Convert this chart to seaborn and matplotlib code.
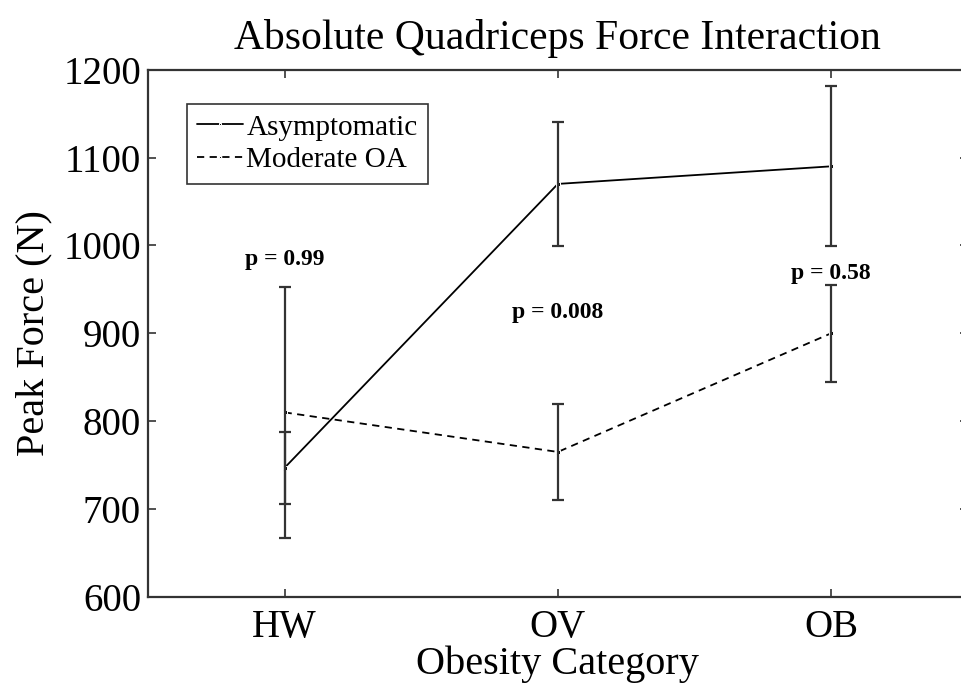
import numpy as np
import pandas as pd
import seaborn as sns
import matplotlib.pyplot as plt

# obesity categories and group means / error half-widths (N)
categories = ["HW", "OV", "OB"]
asym_mean = [747, 1070, 1090]
asym_err = [41, 71, 91]
oa_mean = [810, 765, 900]
oa_err = [143, 55, 55]
groups = ["Asymptomatic", "Moderate OA"]
p_labels = ["p = 0.99", "p = 0.008", "p = 0.58"]
p_y = [984, 924, 968]

sns.set_style("ticks")
plt.rcParams["font.family"] = ["Liberation Serif", "DejaVu Serif"]
plt.rcParams["text.color"] = "black"
plt.rcParams["axes.labelcolor"] = "black"

df = pd.DataFrame({
    "pos": [1, 2, 3] * 2,
    "force": asym_mean + oa_mean,
    "err": asym_err + oa_err,
    "group": [groups[0]] * 3 + [groups[1]] * 3,
})

fig = plt.figure(figsize=(9.61, 6.83), dpi=100)
ax = fig.add_axes([0.154, 0.126, 0.853, 0.772])

sns.lineplot(data=df, x="pos", y="force", style="group", color="black",
             dashes={groups[0]: "", groups[1]: (4, 3)}, markers={groups[0]: "s", groups[1]: "s"},
             markersize=3, linewidth=1.3, ax=ax)

for g in groups:
    sub = df[df["group"] == g]
    ax.errorbar(sub["pos"], sub["force"], yerr=sub["err"], fmt="none",
                ecolor="#333333", elinewidth=1.6, capsize=4.5, capthick=1.6)

for i, txt in enumerate(p_labels):
    ax.text(i + 1, p_y[i], txt, ha="center", va="center", fontsize=17, fontweight="bold")

ax.set_xlim(0.5, 3.5)
ax.set_ylim(600, 1200)
ax.set_xticks([1, 2, 3])
ax.set_xticklabels(categories)
ax.set_yticks(np.arange(600, 1201, 100))
ax.tick_params(direction="in", length=6, width=1.2, labelsize=28, top=True, right=True,
               colors="#333333", labelcolor="black")
ax.tick_params(axis="x", pad=9)
ax.tick_params(axis="y", pad=5)
for s in ax.spines.values():
    s.set_visible(True)
    s.set_linewidth(1.6)
    s.set_color("#333333")

ax.set_xlabel("Obesity Category", fontsize=29, labelpad=-1)
ax.set_ylabel("Peak Force (N)", fontsize=29, labelpad=8)
ax.set_title("Absolute Quadriceps Force Interaction", fontsize=30, pad=15)

leg = ax.legend(loc="upper left", bbox_to_anchor=(0.047, 0.935), fontsize=21, frameon=True,
                fancybox=False, edgecolor="black", handlelength=1.6, handletextpad=0.1,
                borderpad=0.35, labelspacing=0.22, borderaxespad=0)
leg.get_frame().set_linewidth(1.2)
for h in leg.get_lines():
    h.set_markersize(2)

fig.savefig("out.png", dpi=100)
